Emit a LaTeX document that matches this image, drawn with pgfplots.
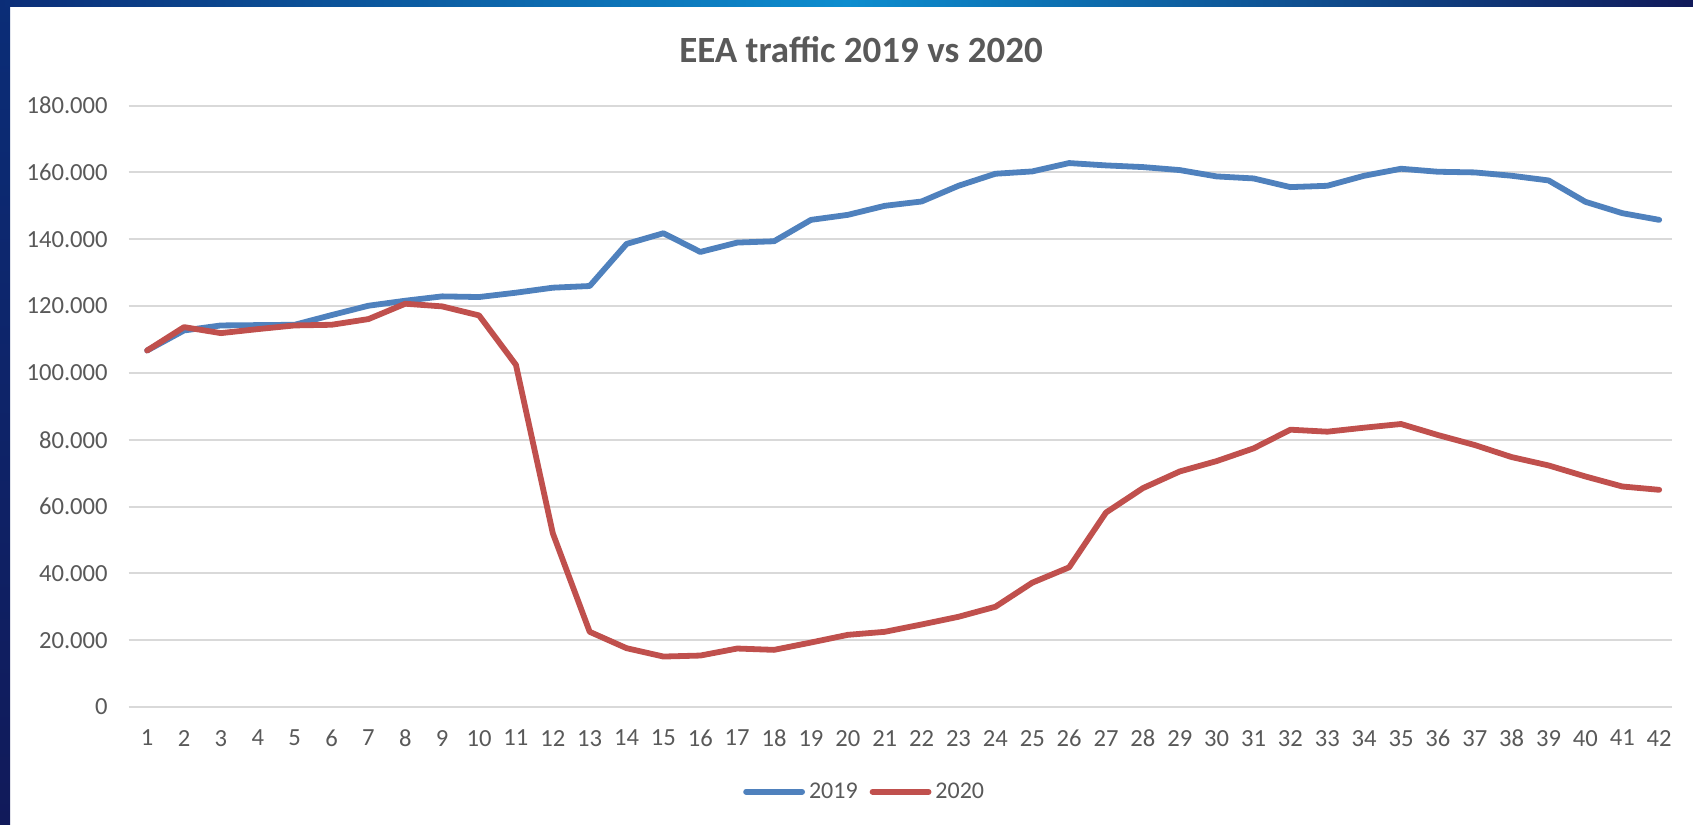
\documentclass[border=0pt]{standalone}
\usepackage{pgfplots}
\usepackage{pgfplotstable}
\pgfplotsset{compat=1.18}
\usepackage{fontspec}
\setmainfont{Carlito}
\definecolor{txt}{HTML}{595959}
\definecolor{gridc}{HTML}{D9D9D9}
\definecolor{c19}{HTML}{4F81BD}
\definecolor{c20}{HTML}{C0504D}
\definecolor{navyA}{HTML}{0B2D77}
\definecolor{navyB}{HTML}{111A5A}
\definecolor{brightB}{HTML}{0C8DCF}

\pgfplotstableread{
x y
1 106700
2 112700
3 114200
4 114300
5 114400
6 117300
7 120100
8 121600
9 122900
10 122700
11 124000
12 125500
13 126000
14 138600
15 141800
16 136200
17 139000
18 139400
19 145800
20 147300
21 150000
22 151300
23 156000
24 159600
25 160300
26 162800
27 162100
28 161600
29 160700
30 158800
31 158200
32 155600
33 156000
34 159000
35 161100
36 160200
37 160000
38 159000
39 157600
40 151200
41 147800
42 145800
}\tabA

\pgfplotstableread{
x y
1 106700
2 113700
3 111900
4 113100
5 114200
6 114400
7 116100
8 120700
9 119900
10 117200
11 102400
12 52000
13 22500
14 17600
15 15100
16 15400
17 17500
18 17100
19 19300
20 21600
21 22500
22 24700
23 27000
24 30000
25 37200
26 41800
27 58200
28 65500
29 70500
30 73600
31 77400
32 83000
33 82400
34 83600
35 84700
36 81400
37 78400
38 74800
39 72300
40 69000
41 66000
42 65000
}\tabB

\begin{document}
\begin{tikzpicture}
\useasboundingbox (0,0) rectangle (846.5pt,412.5pt);
\fill[white] (0,0) rectangle (846.5pt,412.5pt);
\shade[top color=navyA, bottom color=navyB] (0,0) rectangle (5pt,412.5pt);
\shade[left color=navyA, right color=navyB, middle color=brightB] (0,409pt) rectangle (846.5pt,412.5pt);
\begin{axis}[
  at={(64.35pt,59pt)}, anchor=south west,
  scale only axis, width=771.7pt, height=300.7pt,
  xmin=0.5, xmax=42.35, ymin=0, ymax=180000,
  xtick={1,...,42},
  ytick={0,20000,...,180000},
  scaled y ticks=false,
  /pgf/number format/fixed,
  /pgf/number format/precision=0,
  /pgf/number format/1000 sep={.},
  /pgf/number format/assume math mode=true,
  axis line style={draw=none},
  major tick length=0pt,
  ymajorgrids, grid style={gridc, line width=1pt},
  tick label style={font=\fontsize{12.3}{14}\selectfont, text=txt},
  y tick label style={xshift=-7pt},
  x tick label style={yshift=-8pt},
  clip=false,
  title={EEA traffic 2019 vs 2020},
  title style={at={(0.4745,1.073)}, anchor=center, font=\bfseries\fontsize{18.5}{22}\selectfont, text=txt},
  legend style={at={(0.4775,-0.141)}, anchor=center, draw=none, fill=none,
    legend columns=2, font=\fontsize{12}{14}\selectfont, text=txt,
    /tikz/every even column/.append style={column sep=4pt}},
  legend image code/.code={\draw[#1] (0pt,0pt) -- (28pt,0pt);},
]
\addplot[c19, line width=2.9pt, line join=round, line cap=round] table[x=x,y=y] {\tabA};
\addlegendentry{2019}
\addplot[c20, line width=2.9pt, line join=round, line cap=round] table[x=x,y=y] {\tabB};
\addlegendentry{2020}
\end{axis}
\end{tikzpicture}
\end{document}
